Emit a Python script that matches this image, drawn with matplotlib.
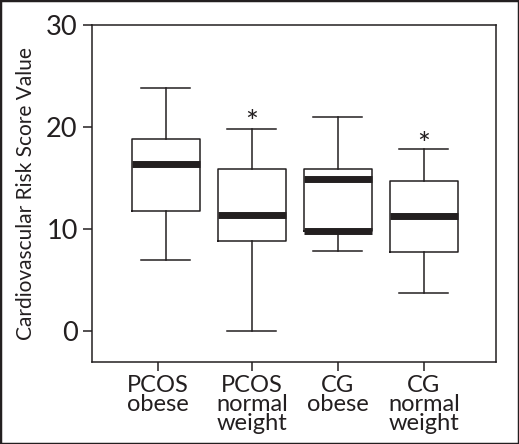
import matplotlib
matplotlib.use("Agg")
import matplotlib.pyplot as plt
from matplotlib.patches import Rectangle

# ---- data ----
group_labels = ["PCOS\nobese", "PCOS\nnormal\nweight", "CG\nobese", "CG\nnormal\nweight"]
whisker_low = [7.0, 0.0, 7.9, 3.8]
q1 = [11.8, 8.85, 9.8, 7.75]
median = [16.4, 11.4, 14.9, 11.3]
q3 = [18.9, 15.9, 15.9, 14.7]
whisker_high = [23.9, 19.8, 21.0, 17.9]
significant = [False, True, False, True]
asterisk_y = [None, 21.4, None, 19.2]
thick_q1 = [False, False, True, False]
yticks = [0, 10, 20, 30]
ylabel = "Cardiovascular Risk Score Value"

INK = "#231f20"
FONT = ["Lato", "DejaVu Sans"]
plt.rcParams["font.family"] = FONT

fig = plt.figure(figsize=(5.19, 4.44), dpi=100)
ax = fig.add_axes([0.1778, 0.184, 0.9551 - 0.1778, 0.943 - 0.184])

positions = [1, 2, 3, 4]
stats = []
for i in range(4):
    stats.append(dict(whislo=whisker_low[i], q1=q1[i], med=median[i],
                      q3=q3[i], whishi=whisker_high[i], fliers=[]))

lw = 1.1
ax.bxp(stats, positions=positions, widths=0.78, capwidths=0.57,
       showfliers=False, patch_artist=False,
       boxprops=dict(color=INK, linewidth=lw),
       whiskerprops=dict(color=INK, linewidth=lw),
       capprops=dict(color=INK, linewidth=lw),
       medianprops=dict(color=INK, linewidth=5.0, solid_capstyle="butt"))

for i, p in enumerate(positions):
    if thick_q1[i]:
        ax.hlines(q1[i], p - 0.39, p + 0.39, color=INK, linewidth=5.0)
    if significant[i]:
        ax.annotate("*", xy=(p, asterisk_y[i]), xytext=(0, -7),
                    textcoords="offset points", ha="center", va="center",
                    fontsize=22, color=INK)

ax.set_xlim(0.143, 4.834)
ax.set_ylim(-3.04, 30)
ax.set_yticks(yticks)
ax.set_yticklabels([str(t) for t in yticks], fontsize=19.5, color=INK)
tick_pos = [0.91, 2, 3, 4]
ax.set_xticks(tick_pos)
ax.set_xticklabels(group_labels, fontsize=17, color=INK, linespacing=0.9,
                   ha="center", multialignment="center")

ax.tick_params(axis="both", direction="out", length=6.5, width=lw,
               color=INK, pad=4)
ax.tick_params(axis="x", pad=2.5)
ax.set_ylabel(ylabel, fontsize=15, color=INK, labelpad=7)
for s in ax.spines.values():
    s.set_color(INK)
    s.set_linewidth(lw)

fig.patches.append(Rectangle((0, 0), 1, 1, transform=fig.transFigure,
                             fill=False, edgecolor=INK, linewidth=2.5))

fig.savefig("out.png", dpi=100)
